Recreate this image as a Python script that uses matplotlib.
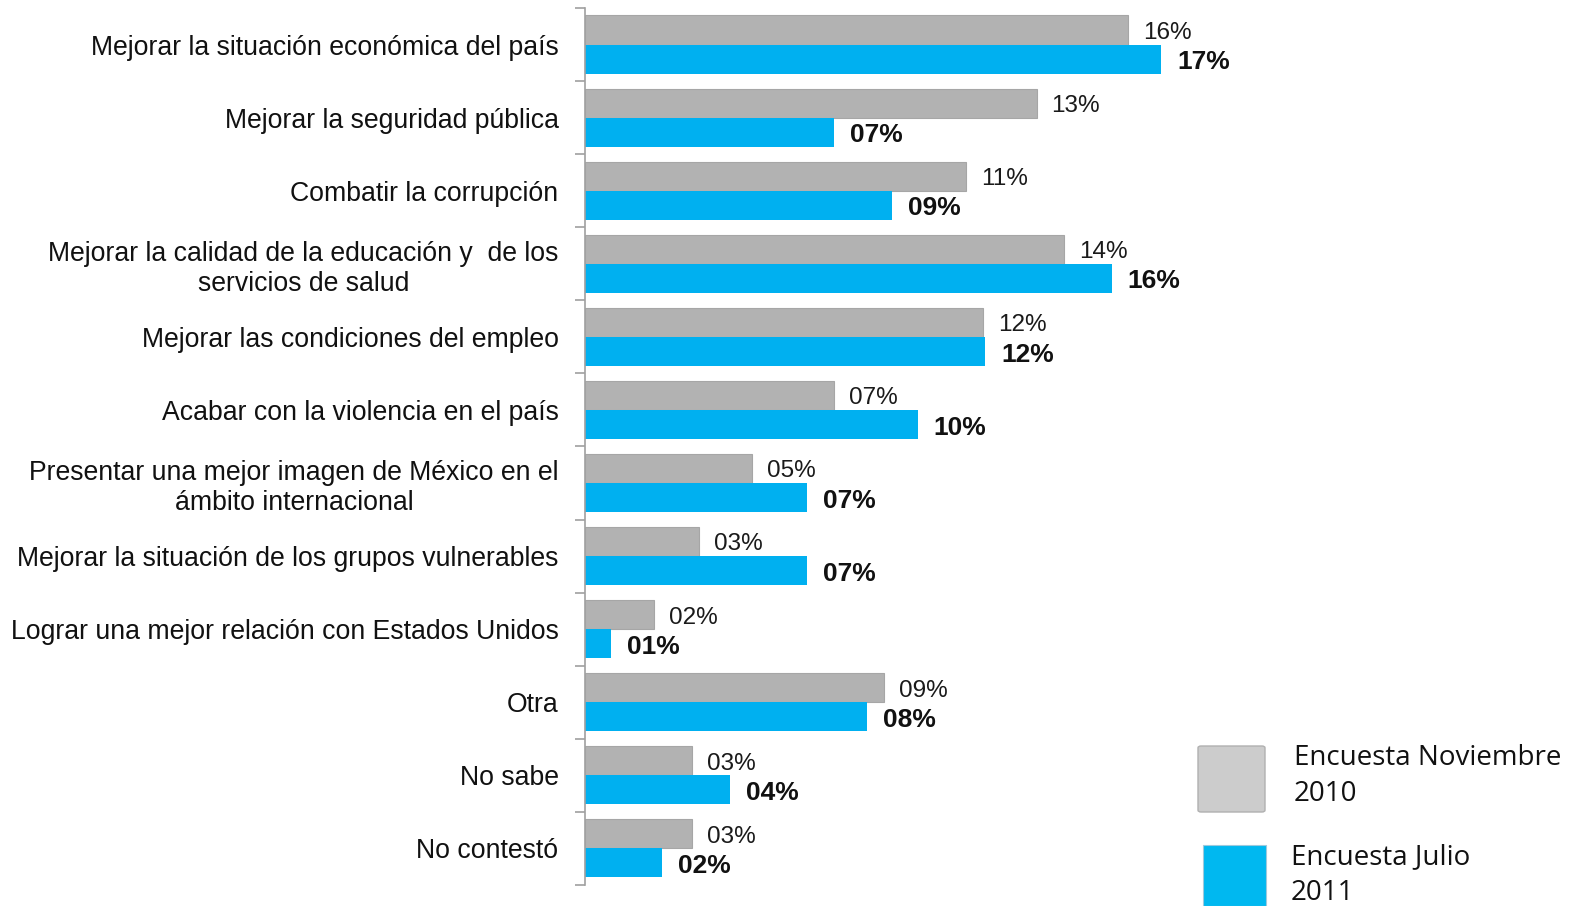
import matplotlib
matplotlib.use("Agg")
import matplotlib.pyplot as plt
from matplotlib.patches import FancyBboxPatch, Rectangle

categories = [
    "Mejorar la situación económica del país",
    "Mejorar la seguridad pública",
    "Combatir la corrupción",
    "Mejorar la calidad de la educación y  de los\nservicios de salud",
    "Mejorar las condiciones del empleo",
    "Acabar con la violencia en el país",
    "Presentar una mejor imagen de México en el\námbito internacional",
    "Mejorar la situación de los grupos vulnerables",
    "Lograr una mejor relación con Estados Unidos",
    "Otra",
    "No sabe",
    "No contestó",
]
nov_2010 = [16.04, 13.33, 11.25, 14.14, 11.76, 7.35, 4.94, 3.36, 2.05, 8.84, 3.15, 3.15]
jul_2011 = [17.0, 7.35, 9.05, 15.55, 11.82, 9.82, 6.55, 6.55, 0.77, 8.33, 4.29, 2.26]
series_names = ["Encuesta Noviembre\n2010", "Encuesta Julio\n2011"]

GRAY = "#b2b2b2"
BLUE = "#00b0f0"

plt.rcParams["font.family"] = ["Liberation Sans", "DejaVu Sans"]

fig = plt.figure(figsize=(15.81, 9.06), dpi=100)
ax = fig.add_axes([0.370, 0.0234, 0.630, 0.9676])

n = len(categories)
ys = list(range(n))
h = 0.4
ax.barh([y - h / 2 for y in ys], nov_2010, height=h, color=GRAY,
        edgecolor="#a6a6a6", linewidth=0.8)
ax.barh([y + h / 2 for y in ys], jul_2011, height=h, color=BLUE, linewidth=0)

for y, v in zip(ys, nov_2010):
    ax.annotate(f"{v:02.0f}%", (v, y - h / 2), xytext=(15, -3), textcoords="offset pixels",
                ha="left", va="center", fontsize=17.5, color="#1a1a1a")
for y, v in zip(ys, jul_2011):
    ax.annotate(f"{v:02.0f}%", (v, y + h / 2), xytext=(16, -3), textcoords="offset pixels",
                ha="left", va="center", fontsize=19, fontweight="bold", color="#111111")

ax.set_xlim(0, 29.4)
ax.set_ylim(n - 0.5, -0.5)
ax.set_xticks([])
ax.set_yticks(ys)
ax.set_yticklabels(categories, fontsize=19.2, color="#111111", multialignment="center",
                   linespacing=1.2)
ax.tick_params(axis="y", which="major", length=0, pad=19)
ax.set_yticks([y - 0.5 for y in range(n + 1)], minor=True)
ax.tick_params(axis="y", which="minor", length=7, width=1.2, color="#a0a0a0")
for s in ["top", "right", "bottom"]:
    ax.spines[s].set_visible(False)
ax.spines["left"].set_color("#a0a0a0")
ax.spines["left"].set_linewidth(1.2)

# legend
lg_font = ["Open Sans", "DejaVu Sans"]
fig.add_artist(FancyBboxPatch((1198 / 1581, 1 - 812 / 906), 67 / 1581, 66 / 906,
                              boxstyle="round,pad=0,rounding_size=0.002",
                              transform=fig.transFigure, facecolor="#cccccc",
                              edgecolor="#b0b0b0", linewidth=1))
fig.add_artist(Rectangle((1203 / 1581, 0), 63 / 1581, 1 - 845 / 906,
                         transform=fig.transFigure, facecolor="#00b8f0",
                         edgecolor="#9ec9dc", linewidth=0.8))
fig.text(1294 / 1581, 1 - 776 / 906, series_names[0], fontsize=20, family=lg_font,
         ha="left", va="center", color="#111111", linespacing=1.38)
fig.text(1291 / 1581, 1 - 875 / 906, series_names[1], fontsize=20, family=lg_font,
         ha="left", va="center", color="#111111", linespacing=1.38)

fig.savefig("out.png", dpi=100)
